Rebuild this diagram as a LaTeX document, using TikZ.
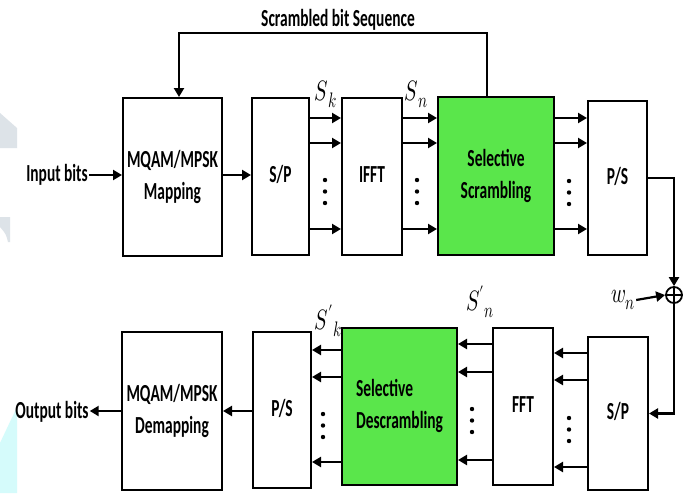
\documentclass[tikz,border=0pt]{standalone}
\usepackage{graphicx}
\usepackage{fontspec}
\setmainfont{Carlito}
\usepackage{unicode-math}
\setmathfont{Latin Modern Math}
\usetikzlibrary{arrows.meta}
\definecolor{boxgreen}{RGB}{90,230,75}
\definecolor{wmgray}{RGB}{221,227,232}
\definecolor{wmcyan}{RGB}{213,251,251}
\newcommand{\lbl}[2][c]{\scalebox{0.63}[1]{\fontsize{24.5}{32}\selectfont\bfseries\begin{tabular}{@{}#1@{}}#2\end{tabular}}}
\newcommand{\mlab}[2]{\scalebox{0.72}[1]{\fontsize{28}{28}\selectfont$#1$\kern0.5pt\raisebox{-7pt}{\fontsize{21}{21}\selectfont$#2$}}}
\begin{document}
\begin{tikzpicture}[x=1pt,y=-1pt,
  blk/.style={draw, line width=2pt, fill=white, inner sep=0pt, anchor=center},
  gblk/.style={blk, fill=boxgreen},
  arr/.style={line width=2.2pt, -{Triangle[length=9pt,width=10pt]}},
  txt/.style={inner sep=1pt}]
\useasboundingbox (0,0) rectangle (684,493);
\fill[white] (0,0) rectangle (684,493);
% watermark
\fill[wmgray] (0,113) -- (17,128) -- (17,148) -- (0,148) -- cycle;
\fill[wmgray] (0,217) -- (10,217) -- (10,242) -- (8,242) .. controls (6,234) .. (0,227) -- cycle;
\fill[wmcyan] (0,443) -- (17,407) -- (17,493) -- (0,493) -- cycle;

% top row
\node[blk, minimum width=99pt, minimum height=158pt] (map) at (172.5,177) {\lbl{MQAM/MPSK\\Mapping}};
\node[blk, minimum width=57pt, minimum height=157pt] (sp1) at (280.5,176.5) {\lbl{S/P}};
\node[blk, minimum width=60pt, minimum height=157pt] (ifft) at (372,176.5) {\lbl{IFFT}};
\node[gblk, minimum width=116pt, minimum height=158pt] (scr) at (496,176) {\lbl{Selective\\Scrambling}};
\node[blk, minimum width=59pt, minimum height=154pt] (ps1) at (617.5,178) {\lbl{P/S}};

% bottom row
\node[blk, minimum width=100pt, minimum height=158pt] (demap) at (172,411) {\lbl{MQAM/MPSK\\Demapping}};
\node[blk, minimum width=58pt, minimum height=156pt] (ps2) at (282,410) {\lbl{P/S}};
\node[gblk, minimum width=115pt, minimum height=157pt] (desc) at (399.5,406.5) {\lbl[l]{Selective\\Descrambling}};
\node[blk, minimum width=60pt, minimum height=157pt] (fft) at (523,406.5) {\lbl{FFT}};
\node[blk, minimum width=60pt, minimum height=153pt] (sp2) at (618,413.5) {\lbl{S/P}};

% text labels
\node[txt] (inp) at (57,175) {\lbl{Input bits}};
\node[txt] (outp) at (52,412) {\lbl{Output bits}};
\node[txt] (fbl) at (338,20) {\lbl{Scrambled bit Sequence}};
\node[txt] (sk) at (326,94) {\mlab{S}{k}};
\node[txt] (sn) at (416,94) {\mlab{S}{n}};
\node[txt] (skp) at (328,321) {\mlab{S'}{k}};
\node[txt] (snp) at (480,302) {\mlab{S'}{n}};
\node[txt] (wn) at (623,300) {\mlab{w}{n}};
\node[circle, draw, line width=1.8pt, minimum size=16pt, inner sep=0pt, fill=white] (plus) at (674,295) {};
\draw[line width=1.8pt] (plus.north) -- (plus.south) (plus.west) -- (plus.east);

% row coordinates
\coordinate (ta) at (0,118);
\coordinate (tb) at (0,143);
\coordinate (tc) at (0,229);
\coordinate (fbR) at (487,33);
\coordinate (fbL) at (179,33);

% top connectors
\draw[arr] (inp.east) -- (inp.east -| map.west);
\draw[arr] (map.east |- inp.east) -- (sp1.west |- inp.east);
\foreach \r in {ta,tb,tc}{
  \draw[arr] (sp1.east |- \r) -- (ifft.west |- \r);
  \draw[arr] (ifft.east |- \r) -- (scr.west |- \r);
  \draw[arr] (scr.east |- \r) -- (ps1.west |- \r);
}
\draw[arr] (scr.north -| fbR) -- (fbR) -- (fbL) -- (map.north -| fbL);
\draw[arr] (ps1.east) -- (ps1.east -| plus) -- (plus.north);
\draw[arr] (wn.east) -- (plus.west);
\draw[arr] (plus.south) |- (sp2.east);

% bottom connectors
\coordinate (sa) at (0,353);
\coordinate (sb) at (0,380);
\coordinate (sc) at (0,467);
\coordinate (fa) at (0,344);
\coordinate (fb) at (0,372);
\coordinate (fc) at (0,460);
\coordinate (da) at (0,350);
\coordinate (db) at (0,377);
\coordinate (dc) at (0,462);
\foreach \r in {sa,sb,sc}{\draw[arr] (sp2.west |- \r) -- (fft.east |- \r);}
\foreach \r in {fa,fb,fc}{\draw[arr] (fft.west |- \r) -- (desc.east |- \r);}
\foreach \r in {da,db,dc}{\draw[arr] (desc.west |- \r) -- (ps2.east |- \r);}
\draw[arr] (ps2.west |- demap.west) -- (demap.east);
\draw[arr] (demap.west) -- (outp.east |- demap.west);

% vertical dots
\foreach \x/\y in {325/180, 417/180, 569/181, 323/414, 472/409, 569/418}{
  \foreach \k in {0,1,2}{\fill (\x,\y+11.5*\k) circle (2.2pt);}
}
\end{tikzpicture}
\end{document}
